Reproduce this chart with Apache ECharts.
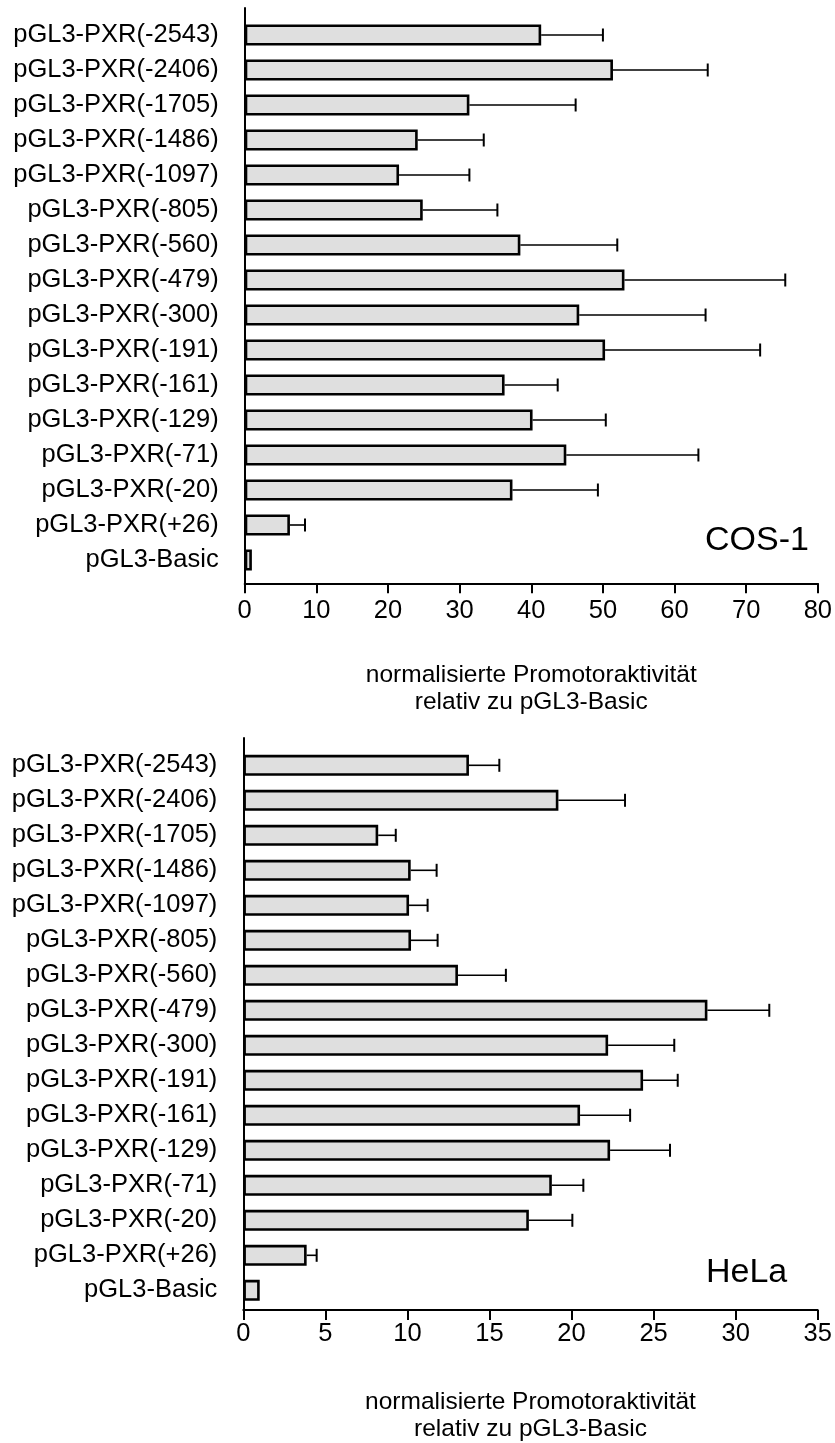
<!DOCTYPE html>
<html>
<head>
<meta charset="utf-8">
<script src="https://cdn.jsdelivr.net/npm/echarts@6/dist/echarts.min.js"></script>
<style>
html,body{margin:0;padding:0;background:#fff;}
#chart{width:835px;height:1443px;}
</style>
</head>
<body>
<div id="chart"></div>
<script>
// ---- data ----
var categories = ['pGL3-PXR(-2543)','pGL3-PXR(-2406)','pGL3-PXR(-1705)','pGL3-PXR(-1486)','pGL3-PXR(-1097)','pGL3-PXR(-805)','pGL3-PXR(-560)','pGL3-PXR(-479)','pGL3-PXR(-300)','pGL3-PXR(-191)','pGL3-PXR(-161)','pGL3-PXR(-129)','pGL3-PXR(-71)','pGL3-PXR(-20)','pGL3-PXR(+26)','pGL3-Basic'];
var cosMean = [41.3, 51.3, 31.3, 24.1, 21.5, 24.8, 38.4, 52.9, 46.6, 50.2, 36.2, 40.1, 44.8, 37.3, 6.3, 1.0];
var cosSD   = [8.6, 13.2, 14.8, 9.2, 9.8, 10.4, 13.5, 22.4, 17.6, 21.6, 7.4, 10.2, 18.4, 11.9, 2.1, 0];
var helaMean = [13.75, 19.2, 8.22, 10.2, 10.1, 10.22, 13.08, 28.28, 22.23, 24.36, 20.52, 22.35, 18.8, 17.4, 3.86, 1.0];
var helaSD   = [1.85, 4.06, 1.07, 1.58, 1.13, 1.62, 2.92, 3.77, 4.03, 2.11, 3.05, 3.65, 1.92, 2.65, 0.61, 0];
var cosTicks = {min: 0, max: 80, interval: 10};
var helaTicks = {min: 0, max: 35, interval: 5};
var xTitle = 'normalisierte Promotoraktivität\nrelativ zu pGL3-Basic';
var panelLabels = ['COS-1', 'HeLa'];

var FONT = 'Liberation Sans, Arial, Helvetica, sans-serif';

function errData(mean, sd){
  return mean.map(function(m, i){ return [i, m, m + sd[i]]; });
}
function errRender(params, api){
  var yi = api.value(0), m = api.value(1), hi = api.value(2);
  if (hi <= m) return null;
  var p0 = api.coord([m, yi]);
  var p1 = api.coord([hi, yi]);
  return {type:'group', children:[
    {type:'line', shape:{x1:p0[0], y1:p0[1], x2:p1[0], y2:p1[1]}, style:{stroke:'#000', lineWidth:1.6}},
    {type:'line', shape:{x1:p1[0], y1:p1[1]-6.5, x2:p1[0], y2:p1[1]+6.5}, style:{stroke:'#000', lineWidth:2}}
  ]};
}

function outerX(gi, t, margin){
  return {gridIndex:gi, type:'value', min:t.min, max:t.max, interval:t.interval,
    axisLine:{show:true, lineStyle:{color:'#000', width:2}},
    axisTick:{show:true, inside:false, length:10, lineStyle:{color:'#000', width:2}},
    axisLabel:{color:'#000', fontSize:25.5, fontFamily:FONT, margin:margin},
    splitLine:{show:false},
    name: xTitle, nameLocation:'middle', nameGap:79,
    nameTextStyle:{color:'#000', fontSize:24.5, fontFamily:FONT, lineHeight:26.5}};
}
function innerX(gi, t){
  return {gridIndex:gi, type:'value', min:t.min, max:t.max, show:false, splitLine:{show:false}};
}
function outerY(gi){
  return {gridIndex:gi, type:'value', min:0, max:1,
    axisLine:{show:true, lineStyle:{color:'#000', width:2}},
    axisTick:{show:false}, axisLabel:{show:false}, splitLine:{show:false}};
}
function innerY(gi){
  return {gridIndex:gi, type:'category', data:categories, inverse:true,
    axisLine:{show:false}, axisTick:{show:false},
    axisLabel:{color:'#000', fontSize:25.5, fontFamily:FONT, margin:26, padding:[4,0,0,0]},
    splitLine:{show:false}};
}
function barSeries(xi, mean){
  return {type:'bar', xAxisIndex:xi, yAxisIndex:xi, data:mean, barWidth:21,
    itemStyle:{color:'#dfdfdf', borderColor:'#000', borderWidth:2.6},
    silent:true, animation:false};
}
function errSeries(xi, mean, sd){
  return {type:'custom', xAxisIndex:xi, yAxisIndex:xi, data:errData(mean, sd),
    renderItem:errRender, encode:{x:[1,2], y:0}, silent:true, animation:false, z:1};
}

var chart = echarts.init(document.getElementById('chart'), null, {renderer:'canvas'});
chart.setOption({
  animation:false,
  backgroundColor:'#fff',
  grid:[
    {left:244.7, right:16, top:8, height:575.3},
    {left:244.7, right:16, top:17.5, height:560},
    {left:243.3, right:17.3, top:738, height:575.3},
    {left:243.3, right:17.3, top:747.8, height:560}
  ],
  xAxis:[outerX(0, cosTicks, 15), innerX(1, cosTicks), outerX(2, helaTicks, 11), innerX(3, helaTicks)],
  yAxis:[outerY(0), innerY(1), outerY(2), innerY(3)],
  series:[
    barSeries(1, cosMean), errSeries(1, cosMean, cosSD),
    barSeries(3, helaMean), errSeries(3, helaMean, helaSD)
  ],
  graphic:[
    {type:'text', x:705, y:541, style:{text:panelLabels[0], font:'34px ' + FONT, fill:'#000', align:'left', verticalAlign:'middle'}},
    {type:'text', x:706, y:1273, style:{text:panelLabels[1], font:'34px ' + FONT, fill:'#000', align:'left', verticalAlign:'middle'}}
  ]
});
</script>
</body>
</html>
